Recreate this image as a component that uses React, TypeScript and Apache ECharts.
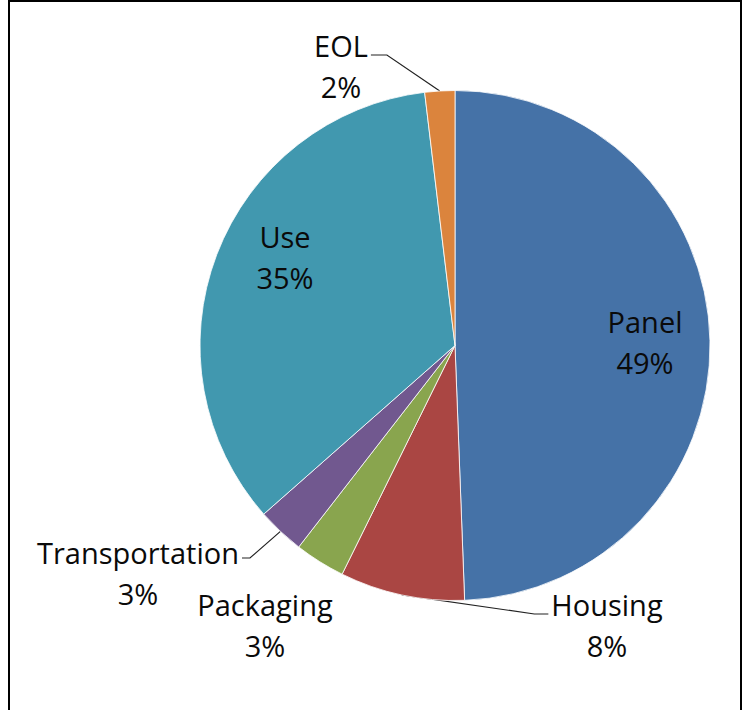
import React, { useEffect, useRef } from "react";
import * as echarts from "echarts";

const categories = ["Panel", "Housing", "Packaging", "Transportation", "Use", "EOL"];
const values = [49.4, 7.9, 3.2, 3.0, 34.6, 1.9];
const colors = ["#4572A7", "#AA4643", "#89A54E", "#71588F", "#4198AF", "#DB843D"];
// label centre positions (x, y) for each slice's label block
const labelPos: [number, number][] = [
  [645, 342],
  [607, 625],
  [265, 625],
  [138, 573],
  [285, 257],
  [341, 66],
];
const withLine = [false, true, false, true, false, true];
// which side of the label the leader line attaches to, and its vertical offset
const lineSide = [0, -1, 0, 1, 0, 1];
const lineDy = [0, -11, 0, -15, 0, -11];
const elbow = [0, 14, 0, 8, 0, 16];

export default function App() {
  const ref = useRef<HTMLDivElement>(null);
  useEffect(() => {
    if (!ref.current) return;
    const chart = echarts.init(ref.current, undefined, { renderer: "svg" });
    const font = "'Open Sans', Lato, sans-serif";
    chart.setOption({
      animation: false,
      backgroundColor: "#ffffff",
      graphic: [
        { type: "rect", shape: { x: 8, y: 0, width: 2, height: 710 }, style: { fill: "#000" } },
        { type: "rect", shape: { x: 740, y: 0, width: 2, height: 710 }, style: { fill: "#000" } },
        { type: "rect", shape: { x: 8, y: 0, width: 734, height: 2 }, style: { fill: "#000" } },
      ],
      series: [
        {
          type: "pie",
          center: [455, 345.5],
          radius: 255,
          startAngle: 90,
          clockwise: true,
          percentPrecision: 0,
          avoidLabelOverlap: false,
          itemStyle: { borderColor: "#ffffff", borderWidth: 0.8 },
          label: {
            show: true,
            formatter: "{b}\n{d}%",
            fontFamily: font,
            fontSize: 29,
            lineHeight: 41,
            color: "#0a0a0a",
            align: "center",
          },
          labelLine: { show: true, lineStyle: { color: "#222", width: 1.2 }, length: 10, length2: 10 },
          labelLayout: (params: any) => {
            const i = params.dataIndex;
            const p = labelPos[i];
            const out: any = { x: p[0], y: p[1], align: "center", verticalAlign: "middle" };
            const pts = params.labelLinePoints;
            if (withLine[i] && pts && pts.length) {
              const w = params.labelRect ? params.labelRect.width : 0;
              const side = lineSide[i];
              const ex = p[0] + side * (w / 2 + 3);
              const ey = p[1] + lineDy[i];
              out.labelLinePoints = [pts[0], [ex + side * elbow[i], ey], [ex, ey]];
            }
            return out;
          },
          data: categories.map((name, i) => ({
            name,
            value: values[i],
            itemStyle: { color: colors[i] },
            label: { position: i === 0 || i === 4 ? "inside" : "outside" },
            labelLine: { show: withLine[i] },
          })),
        },
      ],
    });
    return () => chart.dispose();
  }, []);
  return (
    <div
      ref={ref}
      style={{ position: "fixed", left: 0, top: 0, width: 746, height: 710 }}
    />
  );
}
